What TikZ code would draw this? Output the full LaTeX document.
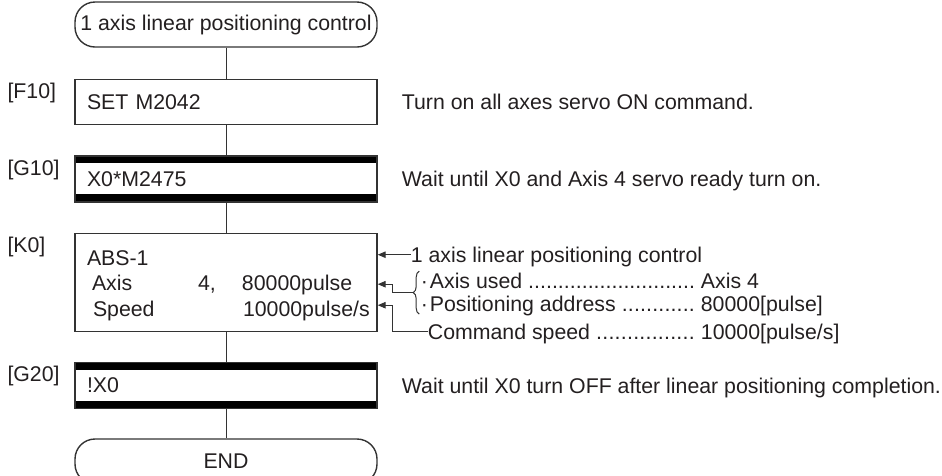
\documentclass[tikz,border=0pt]{standalone}
\usepackage{fontspec}
\setmainfont{Liberation Sans}
\usepackage{xcolor}
\definecolor{LineGray}{HTML}{333333}
\definecolor{TextBlack}{HTML}{231F20}
\usetikzlibrary{arrows.meta,positioning,calc,decorations.pathreplacing}
\newcommand{\leadrow}[3]{\makebox[#1][l]{#2 \xleaders\hbox{.}\hfill\ }#3}

\begin{document}
\begin{tikzpicture}[x=1pt, y=-1pt, node distance=30pt, every node/.style={font=\fontsize{21.3}{25.5}\selectfont, text=TextBlack}, stepbox/.style={draw=LineGray, line width=1.4pt, minimum height=45pt, inner xsep=12pt, text width=278pt, align=left}, waitbox/.style={stepbox, minimum height=46pt, path picture={\fill[black] (path picture bounding box.north west) rectangle ([yshift=-7.5pt]path picture bounding box.north east); \fill[black] (path picture bounding box.south west) rectangle ([yshift=7.5pt]path picture bounding box.south east);}}, termbox/.style={draw=LineGray, line width=1.4pt, rounded corners=20pt, minimum width=302pt, minimum height=45pt, inner sep=0pt, align=center}, tag/.style={inner sep=0pt, text height=15.3pt, text depth=0pt, anchor=north west}, note/.style={inner sep=0pt, text height=15.3pt, text depth=0pt, anchor=west}, flow/.style={draw=LineGray, line width=1pt}, pointer/.style={draw=LineGray, line width=1pt, -{Triangle[length=8pt, width=6.5pt]}}, brace/.style={draw=LineGray, line width=1pt, decorate, decoration={brace, amplitude=6pt}}]
        \useasboundingbox (0,0) rectangle (942,475);
        \node[termbox] (start) at (226,24.5) {1 axis linear positioning control};
        \node[stepbox, below=31pt of start] (f10) {SET M2042};
        \node[waitbox, below=of f10] (g10) {X0*M2475};
        \node[stepbox, below=of g10, minimum height=98pt, text height=22pt] (k0) {ABS-1\\
            \hspace*{5pt}\makebox[106pt][l]{Axis}\makebox[44pt][l]{4,}80000pulse\\
            \hspace*{6pt}\makebox[150pt][l]{Speed}10000pulse/s};
        \node[waitbox, below=of k0] (g20) {!X0};
        \node[termbox, below=29pt of g20] (stop) {END};

        \node[tag] (tagf10) at ([xshift=-67pt, yshift=-4.5pt]f10.north west) {[F10]};
        \node[tag] (tagg10) at ([xshift=-67pt, yshift=-4.5pt]g10.north west) {[G10]};
        \node[tag] (tagk0) at ([xshift=-67pt, yshift=-4.5pt]k0.north west) {[K0]};
        \node[tag] (tagg20) at ([xshift=-67pt, yshift=-4.5pt]g20.north west) {[G20]};

        \node[note] (nf10) at ([xshift=24pt]f10.east) {Turn on all axes servo ON command.};
        \node[note] (ng10) at ([xshift=24pt]g10.east) {Wait until X0 and Axis 4 servo ready turn on.};
        \node[note] (ng20) at ([xshift=24pt]g20.east) {Wait until X0 turn OFF after linear positioning completion.};

        \node[note] (ktitle) at ([xshift=33pt, yshift=27.5pt]k0.east) {1 axis linear positioning control};
        \node[note] (kaxis) at ([xshift=43pt, yshift=1.6pt]k0.east) {\leadrow{280pt}{\makebox[9pt][l]{·}Axis used}{Axis 4}};
        \node[note] (kpos) at ([xshift=43pt, yshift=-21.9pt]k0.east) {\leadrow{280pt}{\makebox[9pt][l]{·}Positioning address}{80000[pulse]}};
        \node[note] (kcmd) at ([xshift=50pt, yshift=-49.4pt]k0.east) {\leadrow{273pt}{Command speed}{10000[pulse/s]}};

        \draw[flow] (start) -- (f10);
        \draw[flow] (f10) -- (g10);
        \draw[flow] (g10) -- (k0);
        \draw[flow] (k0) -- (g20);
        \draw[flow] (g20) -- (stop);

        \coordinate (btop) at ([xshift=-1.5pt, yshift=9.5pt]kaxis.west);
        \coordinate (bbot) at ([xshift=-1.5pt, yshift=-10pt]kpos.west);
        \coordinate (btip) at ($(btop)!0.5!(bbot) + (-6.5pt,0pt)$);
        \draw[brace] (bbot) -- (btop);
        \draw[pointer] (ktitle.west) -- (ktitle.west -| k0.east);
        \draw[pointer] (btip) -- ++(-20.5pt,0pt) |- ([yshift=-2pt]k0.east);
        \draw[pointer] (kcmd.west) -| ([xshift=15pt, yshift=-23pt]k0.east) -- ([yshift=-23pt]k0.east);
    \end{tikzpicture}
\end{document}
